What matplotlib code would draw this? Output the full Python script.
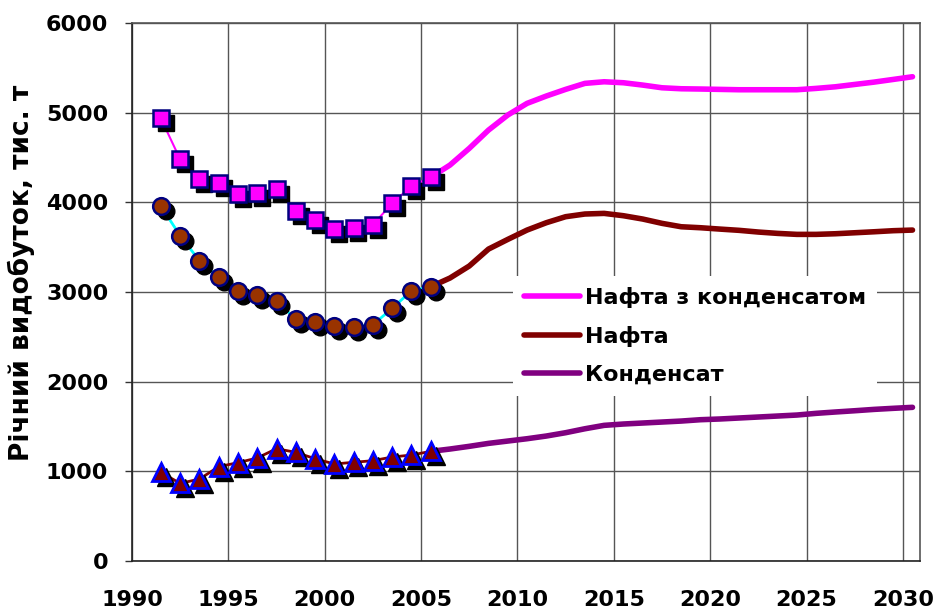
import matplotlib
matplotlib.use("Agg")
import matplotlib.pyplot as plt
from matplotlib.transforms import offset_copy
import numpy as np

plt.rcParams['font.family'] = ['DejaVu Sans']
plt.rcParams['font.weight'] = 'bold'

# historical data (fact), 1991-2005
hist_years = np.arange(1991, 2006)
hist_total = [4937, 4480, 4257, 4212, 4093, 4108, 4145, 3900, 3803, 3699, 3710, 3750, 3989, 4182, 4279]
hist_oil = [3959, 3628, 3349, 3164, 3011, 2963, 2903, 2695, 2665, 2621, 2613, 2635, 2818, 3014, 3059]
hist_cond = [989, 866, 914, 1052, 1097, 1149, 1253, 1212, 1141, 1082, 1101, 1119, 1160, 1182, 1223]

# forecast, 2005-2030
fc_years = np.arange(2005, 2031)
fc_total = [4279, 4416, 4602, 4806, 4974, 5104, 5186, 5260, 5327, 5345, 5334, 5308, 5278,
            5267, 5264, 5260, 5256, 5256, 5256, 5256, 5271, 5289, 5315, 5341, 5371, 5401]
fc_oil = [3059, 3156, 3290, 3479, 3587, 3691, 3773, 3840, 3870, 3877, 3851, 3814, 3766,
          3728, 3717, 3702, 3688, 3669, 3654, 3643, 3643, 3650, 3661, 3672, 3684, 3691]
fc_cond = [1223, 1249, 1279, 1312, 1338, 1364, 1394, 1431, 1475, 1513, 1528, 1539, 1550,
           1561, 1576, 1584, 1595, 1606, 1617, 1628, 1647, 1662, 1676, 1691, 1703, 1714]

labels = ['Нафта з конденсатом', 'Нафта', 'Конденсат']

fig = plt.figure(figsize=(9.44, 6.11), dpi=100)
ax = fig.add_axes([0.1398, 0.0818, 0.835, 0.8805])

# values are yearly totals, drawn in the middle of each year
hx = hist_years + 0.5
fx = fc_years + 0.5

ax.plot(fx, fc_total, color='#FF00FF', lw=4, solid_capstyle='round', zorder=2, label=labels[0])
ax.plot(fx, fc_oil, color='#800000', lw=4, solid_capstyle='round', zorder=2, label=labels[1])
ax.plot(fx, fc_cond, color='#800080', lw=4, solid_capstyle='round', zorder=2, label=labels[2])

ax.plot(hx, hist_total, color='#FF00FF', lw=1.5, zorder=3)
ax.plot(hx, hist_oil, color='#00FFFF', lw=2, zorder=3)
ax.plot(hx, hist_cond, color='#800000', lw=2, zorder=3)

shadow = offset_copy(ax.transData, fig=fig, x=3.5, y=-3.5, units='points')
ax.plot(hx, hist_total, 's', ms=12, color='black', transform=shadow, zorder=3.5)
ax.plot(hx, hist_oil, 'o', ms=12, color='black', transform=shadow, zorder=3.5)
ax.plot(hx, hist_cond, '^', ms=13, color='black', transform=shadow, zorder=3.5)

ax.plot(hx, hist_total, 's', ms=12, mfc='#FF00FF', mec='#000080', mew=1.8, zorder=4)
ax.plot(hx, hist_oil, 'o', ms=12, mfc='#993300', mec='#000080', mew=1.8, zorder=4)
ax.plot(hx, hist_cond, '^', ms=13, mfc='#800000', mec='#0000FF', mew=2, zorder=4)

ax.set_xlim(1990, 2030.9)
ax.set_ylim(0, 6000)
ax.set_xticks(range(1990, 2031, 5))
ax.set_yticks(range(0, 6001, 1000))
ax.grid(True, color='#555555', lw=1)
ax.set_axisbelow(True)
ax.tick_params(axis='x', length=0, pad=21, labelsize=16)
ax.tick_params(axis='y', length=5, width=1, pad=12, labelsize=16, color='#333333')
for lbl in ax.get_xticklabels() + ax.get_yticklabels():
    lbl.set_fontweight('bold')
for s in ax.spines.values():
    s.set_color('#555555')
    s.set_linewidth(1.2)
ax.spines['left'].set_color('#222222')
ax.spines['bottom'].set_color('#222222')

ax.set_ylabel('Річний видобуток, тис. т', fontsize=19, fontweight='bold')
ax.yaxis.set_label_coords(-0.123, 0.535)

leg = ax.legend(loc='upper left', bbox_to_anchor=(0.5434, 0.5485), bbox_transform=fig.transFigure,
                frameon=True, fancybox=False, edgecolor='none', facecolor='white', framealpha=1,
                prop={'size': 16, 'weight': 'bold'}, handlelength=2.5, handletextpad=0.25,
                labelspacing=0.8, borderpad=0.5, borderaxespad=0)
leg.set_zorder(5)

fig.savefig('out.png', dpi=100)
